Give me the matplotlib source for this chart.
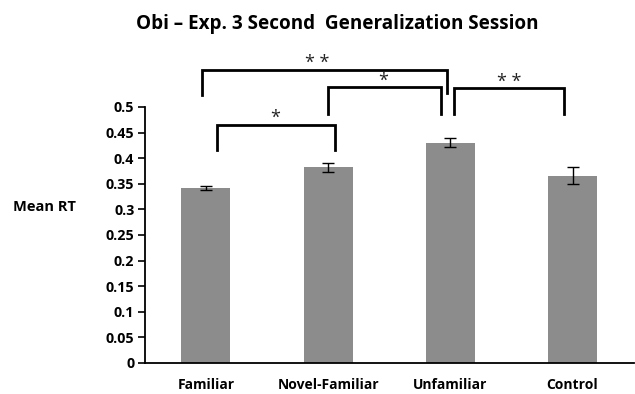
import matplotlib
matplotlib.use("Agg")
import matplotlib.pyplot as plt

categories = ["Familiar", "Novel-Familiar", "Unfamiliar", "Control"]
mean_rt = [0.341, 0.382, 0.430, 0.366]
errors = [0.004, 0.009, 0.009, 0.017]
yticks = [0, 0.05, 0.1, 0.15, 0.2, 0.25, 0.3, 0.35, 0.4, 0.45, 0.5]
ytick_labels = ["0", "0.05", "0.1", "0.15", "0.2", "0.25", "0.3", "0.35", "0.4", "0.45", "0.5"]

# significance brackets: (x_left, x_right, y_top, y_bottom_left, y_bottom_right, label, label_x)
brackets = [
    (0.09, 1.06, 0.465, 0.415, 0.415, "*", 0.57),
    (1.00, 1.92, 0.538, 0.486, 0.486, "*", 1.45),
    (-0.03, 1.97, 0.573, 0.523, 0.527, "* *", 0.91),
    (2.03, 2.93, 0.536, 0.486, 0.486, "* *", 2.48),
]

plt.rcParams['font.family'] = ['Open Sans', 'DejaVu Sans']

fig = plt.figure(figsize=(6.35, 3.94), dpi=100)
ax = fig.add_axes([0.228, 0.0787, 0.770, 0.650])

x = range(len(categories))
ax.bar(x, mean_rt, width=0.4, color="#8c8c8c", zorder=2)
ax.errorbar(x, mean_rt, yerr=errors, fmt="none", ecolor="black",
            elinewidth=1.0, capsize=4, capthick=1.0, zorder=3)

ax.set_xlim(-0.5, 3.5)
ax.set_ylim(0, 0.5)
ax.set_yticks(yticks)
ax.set_yticklabels(ytick_labels, fontsize=10.3, fontweight="bold")
ax.set_xticks(list(x))
ax.set_xticklabels(categories, fontsize=10, fontweight="bold")
ax.tick_params(axis="x", length=0, pad=11)
ax.tick_params(axis="y", length=5, width=1.2, direction="out", pad=2.5)
for s in ["top", "right"]:
    ax.spines[s].set_visible(False)
for s in ["left", "bottom"]:
    ax.spines[s].set_linewidth(1.3)

for xl, xr, yt, ybl, ybr, lab, lx in brackets:
    ax.plot([xl, xl, xr, xr], [ybl, yt, yt, ybr], color="black", lw=2.0,
            clip_on=False, solid_joinstyle="miter", zorder=4)
    ax.text(lx, yt - 0.004, lab, ha="center", va="bottom",
            fontsize=13, color="#222222", clip_on=False)

ax.set_ylabel("Mean RT", fontsize=10.5, fontweight="bold", rotation=0,
              labelpad=0)
ax.yaxis.set_label_coords(-0.205, 0.58)

fig.text(0.5315, 0.926, "Obi \u2013 Exp. 3 Second  Generalization Session",
         ha="center", va="baseline", fontsize=13.6, fontweight="bold")

fig.savefig("out.png", dpi=100)
